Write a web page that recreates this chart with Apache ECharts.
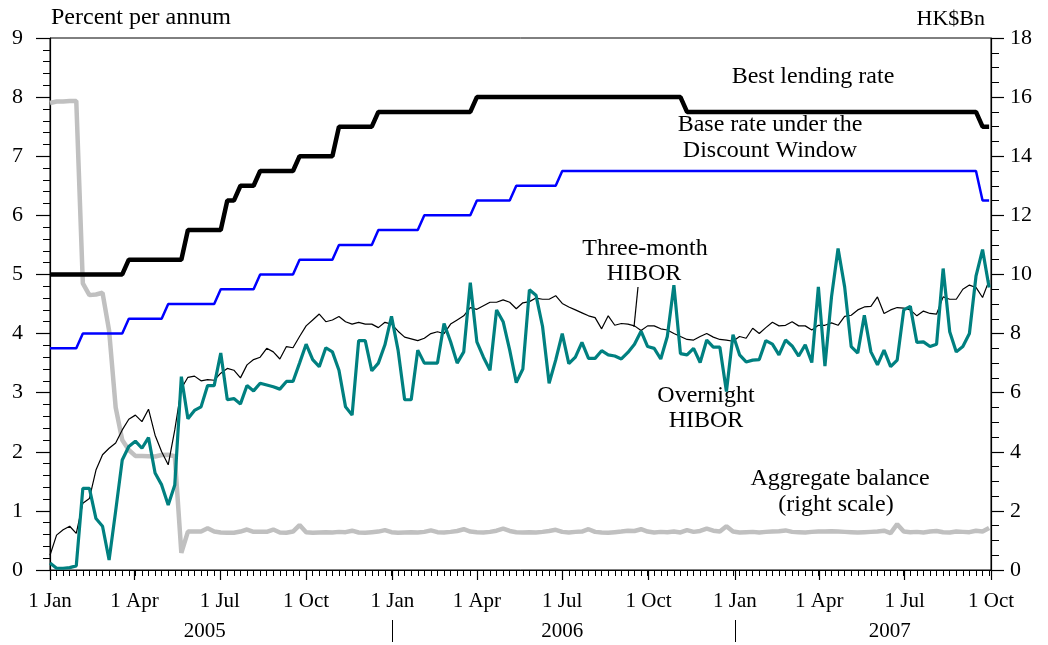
<!DOCTYPE html>
<html>
<head>
<meta charset="utf-8">
<script src="https://cdn.jsdelivr.net/npm/echarts@6/dist/echarts.min.js"></script>
<style>
html,body{margin:0;padding:0;background:#fff;}
#chart{width:1048px;height:645px;}
</style>
</head>
<body>
<div id="chart"></div>
<script>
// Weekly observation dates
const weeks = [
'2005-01-01','2005-01-08','2005-01-15','2005-01-22','2005-01-29','2005-02-05','2005-02-12','2005-02-19','2005-02-26','2005-03-05',
'2005-03-12','2005-03-19','2005-03-26','2005-04-02','2005-04-09','2005-04-16','2005-04-23','2005-04-30','2005-05-07','2005-05-14',
'2005-05-21','2005-05-28','2005-06-04','2005-06-11','2005-06-18','2005-06-25','2005-07-02','2005-07-09','2005-07-16','2005-07-23',
'2005-07-30','2005-08-06','2005-08-13','2005-08-20','2005-08-27','2005-09-03','2005-09-10','2005-09-17','2005-09-24','2005-10-01',
'2005-10-08','2005-10-15','2005-10-22','2005-10-29','2005-11-05','2005-11-12','2005-11-19','2005-11-26','2005-12-03','2005-12-10',
'2005-12-17','2005-12-24','2005-12-31','2006-01-07','2006-01-14','2006-01-21','2006-01-28','2006-02-04','2006-02-11','2006-02-18',
'2006-02-25','2006-03-04','2006-03-11','2006-03-18','2006-03-25','2006-04-01','2006-04-08','2006-04-15','2006-04-22','2006-04-29',
'2006-05-06','2006-05-13','2006-05-20','2006-05-27','2006-06-03','2006-06-10','2006-06-17','2006-06-24','2006-07-01','2006-07-08',
'2006-07-15','2006-07-22','2006-07-29','2006-08-05','2006-08-12','2006-08-19','2006-08-26','2006-09-02','2006-09-09','2006-09-16',
'2006-09-23','2006-09-30','2006-10-07','2006-10-14','2006-10-21','2006-10-28','2006-11-04','2006-11-11','2006-11-18','2006-11-25',
'2006-12-02','2006-12-09','2006-12-16','2006-12-23','2006-12-30','2007-01-06','2007-01-13','2007-01-20','2007-01-27','2007-02-03',
'2007-02-10','2007-02-17','2007-02-24','2007-03-03','2007-03-10','2007-03-17','2007-03-24','2007-03-31','2007-04-07','2007-04-14',
'2007-04-21','2007-04-28','2007-05-05','2007-05-12','2007-05-19','2007-05-26','2007-06-02','2007-06-09','2007-06-16','2007-06-23',
'2007-06-30','2007-07-07','2007-07-14','2007-07-21','2007-07-28','2007-08-04','2007-08-11','2007-08-18','2007-08-25','2007-09-01',
'2007-09-08','2007-09-15','2007-09-22','2007-09-29'
];

// Best lending rate (% p.a.)
const bestLendingRate = [
5,5,5,5,5,5,5,5,5,5,
5,5,5.25,5.25,5.25,5.25,5.25,5.25,5.25,5.25,
5.25,5.75,5.75,5.75,5.75,5.75,5.75,6.25,6.25,6.5,
6.5,6.5,6.75,6.75,6.75,6.75,6.75,6.75,7,7,
7,7,7,7,7.5,7.5,7.5,7.5,7.5,7.5,
7.75,7.75,7.75,7.75,7.75,7.75,7.75,7.75,7.75,7.75,
7.75,7.75,7.75,7.75,7.75,8,8,8,8,8,
8,8,8,8,8,8,8,8,8,8,
8,8,8,8,8,8,8,8,8,8,
8,8,8,8,8,8,8,7.75,7.75,7.75,
7.75,7.75,7.75,7.75,7.75,7.75,7.75,7.75,7.75,7.75,
7.75,7.75,7.75,7.75,7.75,7.75,7.75,7.75,7.75,7.75,
7.75,7.75,7.75,7.75,7.75,7.75,7.75,7.75,7.75,7.75,
7.75,7.75,7.75,7.75,7.75,7.75,7.75,7.75,7.75,7.75,
7.75,7.75,7.5,7.5
];

// Base rate under the Discount Window (% p.a.)
const baseRate = [
3.75,3.75,3.75,3.75,3.75,4,4,4,4,4,
4,4,4.25,4.25,4.25,4.25,4.25,4.25,4.5,4.5,
4.5,4.5,4.5,4.5,4.5,4.5,4.75,4.75,4.75,4.75,
4.75,4.75,5,5,5,5,5,5,5.25,5.25,
5.25,5.25,5.25,5.25,5.5,5.5,5.5,5.5,5.5,5.5,
5.75,5.75,5.75,5.75,5.75,5.75,5.75,6,6,6,
6,6,6,6,6,6.25,6.25,6.25,6.25,6.25,
6.25,6.5,6.5,6.5,6.5,6.5,6.5,6.5,6.75,6.75,
6.75,6.75,6.75,6.75,6.75,6.75,6.75,6.75,6.75,6.75,
6.75,6.75,6.75,6.75,6.75,6.75,6.75,6.75,6.75,6.75,
6.75,6.75,6.75,6.75,6.75,6.75,6.75,6.75,6.75,6.75,
6.75,6.75,6.75,6.75,6.75,6.75,6.75,6.75,6.75,6.75,
6.75,6.75,6.75,6.75,6.75,6.75,6.75,6.75,6.75,6.75,
6.75,6.75,6.75,6.75,6.75,6.75,6.75,6.75,6.75,6.75,
6.75,6.75,6.25,6.25
];

// Three-month HIBOR (% p.a.)
const threeMonthHibor = [
0.25,0.59,0.68,0.74,0.62,1.13,1.21,1.69,1.95,2.06,
2.15,2.37,2.55,2.62,2.51,2.72,2.28,2.00,1.78,2.37,
3.07,3.26,3.28,3.20,3.22,3.21,3.33,3.41,3.38,3.25,
3.47,3.56,3.60,3.75,3.69,3.57,3.78,3.76,3.95,4.13,
4.23,4.33,4.20,4.23,4.29,4.20,4.16,4.19,4.16,4.16,
4.10,4.19,4.16,4.04,3.94,3.91,3.88,3.92,4.00,4.03,
4.00,4.16,4.23,4.30,4.44,4.41,4.47,4.53,4.53,4.57,
4.53,4.42,4.52,4.54,4.60,4.58,4.58,4.64,4.51,4.45,
4.40,4.35,4.30,4.27,4.08,4.30,4.14,4.17,4.16,4.13,
4.05,4.13,4.13,4.08,4.06,4.00,3.95,3.90,3.89,3.95,
4.00,3.94,3.90,3.89,3.87,3.95,3.92,4.09,4.00,4.10,
4.19,4.13,4.14,4.20,4.13,4.13,4.06,4.14,4.14,4.18,
4.14,4.29,4.31,4.40,4.45,4.46,4.62,4.34,4.40,4.44,
4.43,4.40,4.30,4.38,4.34,4.33,4.62,4.58,4.58,4.75,
4.82,4.78,4.61,4.90
];

// Overnight HIBOR (% p.a.)
const overnightHibor = [
0.12,0.03,0.03,0.04,0.07,1.38,1.38,0.87,0.74,0.17,
1.00,1.86,2.09,2.18,2.06,2.24,1.64,1.44,1.10,1.44,
3.27,2.56,2.70,2.76,3.12,3.12,3.67,2.88,2.90,2.81,
3.12,3.03,3.16,3.13,3.10,3.06,3.19,3.19,3.50,3.82,
3.56,3.44,3.76,3.69,3.38,2.76,2.62,3.88,3.88,3.37,
3.50,3.81,4.29,3.72,2.88,2.88,3.72,3.50,3.50,3.50,
4.17,3.86,3.50,3.69,4.86,3.86,3.60,3.38,4.40,4.20,
3.72,3.17,3.40,4.74,4.65,4.12,3.16,3.55,4.00,3.49,
3.60,3.85,3.58,3.58,3.71,3.64,3.62,3.57,3.68,3.82,
4.04,3.78,3.75,3.57,3.95,4.82,3.66,3.64,3.75,3.51,
3.89,3.77,3.77,3.02,3.98,3.64,3.52,3.55,3.56,3.88,
3.82,3.64,3.89,3.79,3.62,3.81,3.51,4.79,3.45,4.62,
5.44,4.79,3.78,3.67,4.31,3.69,3.47,3.72,3.44,3.55,
4.40,4.46,3.85,3.86,3.78,3.82,5.10,4.03,3.69,3.78,
4.00,4.97,5.42,4.78
];

// Aggregate balance (HK$ bn, right scale)
const aggregateBalance = [
15.80,15.85,15.85,15.87,15.87,9.70,9.30,9.32,9.38,8.10,
5.50,4.40,4.06,3.86,3.86,3.85,3.84,3.89,3.90,3.85,
0.58,1.30,1.30,1.30,1.41,1.30,1.27,1.26,1.26,1.30,
1.37,1.29,1.29,1.29,1.37,1.27,1.26,1.30,1.52,1.28,
1.26,1.27,1.28,1.27,1.29,1.28,1.33,1.27,1.26,1.28,
1.30,1.35,1.28,1.26,1.27,1.28,1.27,1.29,1.34,1.28,
1.27,1.29,1.32,1.38,1.30,1.28,1.27,1.29,1.33,1.40,
1.32,1.28,1.27,1.28,1.27,1.29,1.32,1.36,1.29,1.27,
1.29,1.30,1.38,1.29,1.27,1.26,1.28,1.30,1.33,1.32,
1.38,1.30,1.27,1.29,1.28,1.30,1.27,1.35,1.29,1.32,
1.40,1.33,1.30,1.48,1.30,1.27,1.28,1.29,1.27,1.29,
1.30,1.31,1.34,1.29,1.28,1.27,1.29,1.30,1.30,1.31,
1.30,1.29,1.28,1.27,1.28,1.29,1.30,1.33,1.25,1.55,
1.30,1.28,1.29,1.27,1.30,1.32,1.28,1.27,1.30,1.29,
1.28,1.33,1.30,1.42
];

// Axis tick labels
const quarterTicks = ['2005-01-01','2005-04-01','2005-07-01','2005-10-01',
                      '2006-01-01','2006-04-01','2006-07-01','2006-10-01',
                      '2007-01-01','2007-04-01','2007-07-01','2007-10-01'];
const quarterLabels = ['1 Jan','1 Apr','1 Jul','1 Oct','1 Jan','1 Apr','1 Jul','1 Oct','1 Jan','1 Apr','1 Jul','1 Oct'];
const yearLabels = ['2005','2006','2007'];
const yearLabelAnchors = ['2005-06-15','2006-07-01','2007-06-15'];
const yearSeparators = ['2006-01-01','2007-01-01'];
const xStart = '2005-01-01', xEnd = '2007-10-01';

const toTs = s => { const p = s.split('-').map(Number); return Date.UTC(p[0], p[1]-1, p[2]); };
const weekTs = weeks.map(toTs);
const quarterTs = quarterTicks.map(toTs);
const yearAnchorTs = yearLabelAnchors.map(toTs);
const pair = arr => weekTs.map((t, i) => [t, arr[i]]);
const nearestLabel = (tsList, labels) => v => {
  let best = 0, bd = Infinity;
  tsList.forEach((t, i) => { const d = Math.abs(t - v); if (d < bd) { bd = d; best = i; } });
  return labels[best];
};

const FONT = "'Liberation Serif', 'Times New Roman', serif";
const ANN = "24px 'Liberation Serif'";
const xMin = toTs(xStart), xMax = toTs(xEnd);
const annText = (text, x, y) => ({type: 'text', x: x, y: y,
  style: {text: text, font: ANN, fill: '#000', textAlign: 'center', textVerticalAlign: 'middle'}});

const chart = echarts.init(document.getElementById('chart'), null, {renderer: 'canvas'});
const option = {
  animation: false,
  backgroundColor: '#fff',
  textStyle: {fontFamily: FONT, color: '#000'},
  grid: {left: 50, right: 57, top: 38, bottom: 75, show: true, borderColor: '#000', borderWidth: 1, backgroundColor: 'transparent'},
  xAxis: [
    {
      type: 'value', min: xMin, max: xMax, position: 'bottom',
      axisLine: {show: true, lineStyle: {color: '#000', width: 1.2}},
      axisTick: {show: true, customValues: quarterTs, length: 10, inside: false, lineStyle: {color: '#000', width: 1.2}},
      axisLabel: {
        customValues: quarterTs, showMinLabel: true, showMaxLabel: true, hideOverlap: false,
        fontFamily: FONT, fontSize: 21, color: '#000', margin: 21,
        formatter: nearestLabel(quarterTs, quarterLabels)
      },
      splitLine: {show: false}
    },
    {
      type: 'value', min: xMin, max: xMax, position: 'bottom',
      axisLine: {show: false},
      axisTick: {show: true, customValues: weekTs, length: 6, inside: false, lineStyle: {color: '#000', width: 1}},
      axisLabel: {show: false},
      splitLine: {show: false}
    },
    {
      type: 'value', min: xMin, max: xMax, position: 'bottom', offset: 50,
      axisLine: {show: false},
      axisTick: {show: true, customValues: yearSeparators.map(toTs), length: 22, inside: false, lineStyle: {color: '#000', width: 1}},
      axisLabel: {
        customValues: yearAnchorTs, showMinLabel: true, showMaxLabel: true, hideOverlap: false,
        fontFamily: FONT, fontSize: 21, color: '#000', margin: 1,
        formatter: nearestLabel(yearAnchorTs, yearLabels)
      },
      splitLine: {show: false}
    }
  ],
  yAxis: [
    {
      type: 'value', min: 0, max: 9, interval: 1, position: 'left',
      name: 'Percent per annum', nameLocation: 'end', nameGap: 8,
      nameTextStyle: {fontFamily: FONT, fontSize: 24, color: '#000', align: 'left', verticalAlign: 'bottom', padding: [0, 0, 0, 1]},
      axisLine: {show: true, lineStyle: {color: '#000', width: 1.2}},
      axisTick: {show: true, length: 14, inside: false, lineStyle: {color: '#000', width: 1.2}},
      minorTick: {show: true, splitNumber: 5, length: 7, lineStyle: {color: '#000', width: 1}},
      axisLabel: {fontFamily: FONT, fontSize: 22, color: '#000', margin: 27},
      splitLine: {show: false}
    },
    {
      type: 'value', min: 0, max: 18, interval: 2, position: 'right',
      name: 'HK$Bn', nameLocation: 'end', nameGap: 8,
      nameTextStyle: {fontFamily: FONT, fontSize: 22, color: '#000', align: 'right', verticalAlign: 'bottom', padding: [0, 6, 0, 0]},
      axisLine: {show: true, lineStyle: {color: '#000', width: 1.2}},
      axisTick: {show: true, length: 13, inside: false, lineStyle: {color: '#000', width: 1.2}},
      minorTick: {show: true, splitNumber: 4, length: 8, lineStyle: {color: '#000', width: 1}},
      axisLabel: {fontFamily: FONT, fontSize: 22, color: '#000', margin: 19},
      splitLine: {show: false}
    }
  ],
  series: [
    {name: 'Aggregate balance', type: 'line', yAxisIndex: 1, showSymbol: false, data: pair(aggregateBalance),
     lineStyle: {color: '#c0c0c0', width: 4.5}, itemStyle: {color: '#c0c0c0'}, z: 2},
    {name: 'Base rate under the Discount Window', type: 'line', showSymbol: false, data: pair(baseRate),
     lineStyle: {color: '#0000ff', width: 2.5}, itemStyle: {color: '#0000ff'}, z: 3},
    {name: 'Best lending rate', type: 'line', showSymbol: false, data: pair(bestLendingRate),
     lineStyle: {color: '#000', width: 4.5}, itemStyle: {color: '#000'}, z: 4},
    {name: 'Three-month HIBOR', type: 'line', showSymbol: false, data: pair(threeMonthHibor),
     lineStyle: {color: '#000', width: 1.2}, itemStyle: {color: '#000'}, z: 5},
    {name: 'Overnight HIBOR', type: 'line', showSymbol: false, data: pair(overnightHibor),
     lineStyle: {color: '#008080', width: 3.2}, itemStyle: {color: '#008080'}, z: 6}
  ],
  graphic: [
    annText('Best lending rate', 813, 77),
    annText('Base rate under the', 770, 125),
    annText('Discount Window', 770, 151),
    annText('Three-month', 645, 249),
    annText('HIBOR', 644, 274),
    {type: 'line', shape: {x1: 638, y1: 287, x2: 634, y2: 327}, style: {stroke: '#000', lineWidth: 1.2}},
    annText('Overnight', 706, 396),
    annText('HIBOR', 706, 421),
    annText('Aggregate balance', 840, 479),
    annText('(right scale)', 836, 505)
  ]
};
chart.setOption(option);
</script>
</body>
</html>
